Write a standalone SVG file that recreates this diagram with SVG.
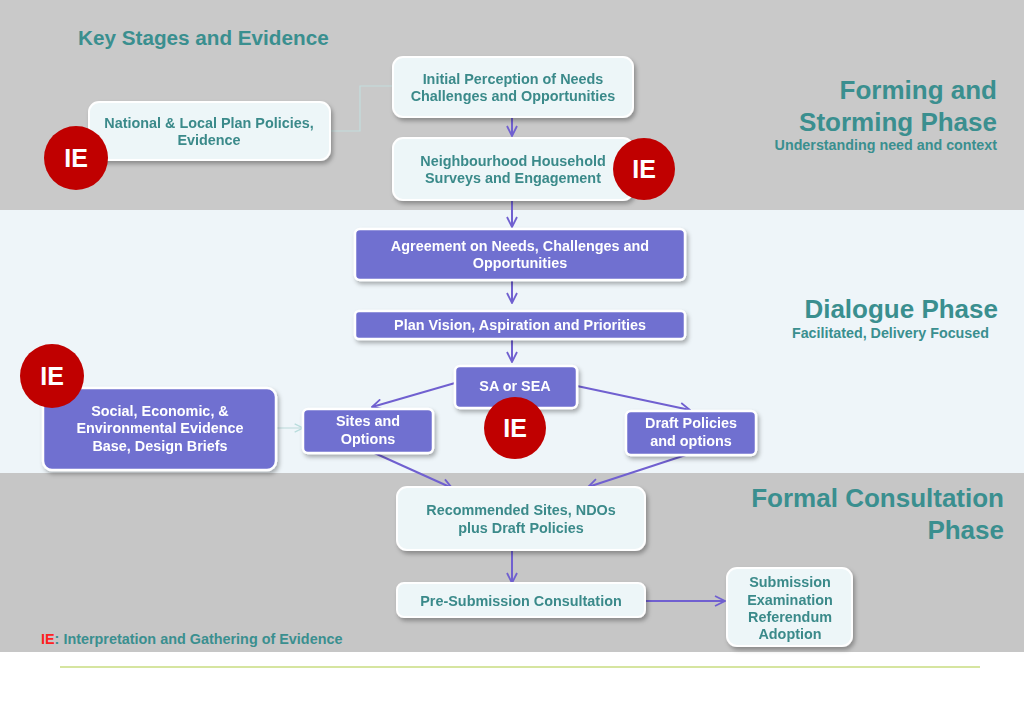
<svg xmlns="http://www.w3.org/2000/svg" width="1024" height="709" viewBox="0 0 1024 709">
<style>
text{font-family:"Liberation Sans",Arial,sans-serif;font-weight:bold}
.lt{fill:#edf6f8;stroke:#ffffff;stroke-width:2}
.pu{fill:#7070d0;stroke:#ffffff;stroke-width:2.5}
.tl{fill:#3a8a8a;font-size:14.4px;text-anchor:middle}
.tw{fill:#ffffff;font-size:14.4px;text-anchor:middle}
.ie circle{fill:#c00000}
.ie text{fill:#ffffff;font-size:25px;text-anchor:middle}
.ph{fill:#3a8f8f;font-size:26px;text-anchor:end}
.sub{fill:#3a8f8f;font-size:14.3px;text-anchor:end}
.arr{stroke:#7060d0;stroke-width:2;fill:none;marker-end:url(#ah)}
.faint{stroke:#c4dede;stroke-width:1.2;fill:none}
</style>
<defs>
<marker id="ah" viewBox="0 0 12 12" refX="11" refY="6" markerWidth="12" markerHeight="12" markerUnits="userSpaceOnUse" orient="auto">
<path d="M1,1 L11,6 L1,11" fill="none" stroke="#7060d0" stroke-width="1.8"/>
</marker>
<marker id="ahf" viewBox="0 0 12 12" refX="11" refY="6" markerWidth="10" markerHeight="10" markerUnits="userSpaceOnUse" orient="auto">
<path d="M1,1 L11,6 L1,11" fill="none" stroke="#b8dcdc" stroke-width="1.5"/>
</marker>
<filter id="sh" x="-10%" y="-20%" width="130%" height="150%">
<feDropShadow dx="2" dy="3" stdDeviation="2" flood-color="#000" flood-opacity="0.3"/>
</filter>
</defs>
<rect x="0" y="0" width="1024" height="709" fill="#ffffff"/>
<rect x="0" y="0" width="1024" height="210" fill="#c9c9c9"/>
<rect x="0" y="210" width="1024" height="263" fill="#eef5f9"/>
<rect x="0" y="473" width="1024" height="179" fill="#c6c6c6"/>
<line x1="60" y1="667" x2="980" y2="667" stroke="#c8dc80" stroke-width="1.5"/>

<text x="78" y="45" fill="#3a8f8f" font-size="20.7">Key Stages and Evidence</text>
<text class="ph" x="997" y="99">Forming and</text>
<text class="ph" x="997" y="131">Storming Phase</text>
<text class="sub" x="997" y="150">Understanding need and context</text>
<text class="ph" x="998" y="318">Dialogue Phase</text>
<text class="sub" x="989" y="338">Facilitated, Delivery Focused</text>
<text class="ph" x="1004" y="507">Formal Consultation</text>
<text class="ph" x="1004" y="539">Phase</text>
<text x="41" y="644" font-size="14.4"><tspan fill="#ff2020">IE</tspan><tspan fill="#3a8f8f">: Interpretation and Gathering of Evidence</tspan></text>

<g id="connectors">
<path class="faint" d="M330,131 H360 V86 H393"/>
<path class="faint" d="M272,428 H303" marker-end="url(#ahf)"/>
<path class="arr" d="M512,118 V136"/>
<path class="arr" d="M512,200 V227"/>
<path class="arr" d="M512,281 V303"/>
<path class="arr" d="M512,340 V362"/>
<path class="arr" d="M455,383 L372,407"/>
<path class="arr" d="M577,386 L690,410"/>
<path class="arr" d="M370,451 L452,488"/>
<path class="arr" d="M698,451 L588,487"/>
<path class="arr" d="M512,551 V583"/>
<path class="arr" d="M645,601 H725"/>
</g>

<g id="n-national" filter="url(#sh)"><rect class="lt" x="89" y="102" width="241" height="58" rx="10"/>
<text class="tl" x="209" y="128">National &amp; Local Plan Policies,</text><text class="tl" x="209" y="145">Evidence</text></g>
<g id="ie1" class="ie"><circle cx="76" cy="158" r="32"/><text x="76" y="167">IE</text></g>

<g id="n-initial" filter="url(#sh)"><rect class="lt" x="393" y="57" width="240" height="60" rx="10"/>
<text class="tl" x="513" y="84">Initial Perception of Needs</text><text class="tl" x="513" y="101">Challenges and Opportunities</text></g>

<g id="n-survey" filter="url(#sh)"><rect class="lt" x="393" y="138" width="240" height="62" rx="10"/>
<text class="tl" x="513" y="166">Neighbourhood Household</text><text class="tl" x="513" y="183">Surveys and Engagement</text></g>
<g id="ie2" class="ie"><circle cx="644" cy="169" r="31"/><text x="644" y="178">IE</text></g>

<g id="n-agree" filter="url(#sh)"><rect class="pu" x="355" y="229" width="330" height="51" rx="5"/>
<text class="tw" x="520" y="251">Agreement on Needs, Challenges and</text><text class="tw" x="520" y="268">Opportunities</text></g>

<g id="n-vision" filter="url(#sh)"><rect class="pu" x="355" y="311" width="330" height="28" rx="4"/>
<text class="tw" x="520" y="330">Plan Vision, Aspiration and Priorities</text></g>

<g id="n-sa" filter="url(#sh)"><rect class="pu" x="455" y="366" width="122" height="42" rx="5"/>
<text class="tw" x="515" y="391">SA or SEA</text></g>
<g id="ie4" class="ie"><circle cx="515" cy="428" r="31"/><text x="515" y="437">IE</text></g>

<g id="n-social" filter="url(#sh)"><rect class="pu" x="43" y="388" width="233" height="82" rx="9"/>
<text class="tw" x="160" y="416">Social, Economic, &amp;</text><text class="tw" x="160" y="433">Environmental Evidence</text><text class="tw" x="160" y="451">Base, Design Briefs</text></g>
<g id="ie3" class="ie"><circle cx="52" cy="376" r="32"/><text x="52" y="385">IE</text></g>

<g id="n-sites" filter="url(#sh)"><rect class="pu" x="303" y="409" width="130" height="44" rx="5"/>
<text class="tw" x="368" y="426">Sites and</text><text class="tw" x="368" y="444">Options</text></g>

<g id="n-draft" filter="url(#sh)"><rect class="pu" x="626" y="411" width="130" height="44" rx="5"/>
<text class="tw" x="691" y="428">Draft Policies</text><text class="tw" x="691" y="446">and options</text></g>

<g id="n-recommended" filter="url(#sh)"><rect class="lt" x="397" y="487" width="248" height="63" rx="10"/>
<text class="tl" x="521" y="515">Recommended Sites, NDOs</text><text class="tl" x="521" y="533">plus Draft Policies</text></g>

<g id="n-presub" filter="url(#sh)"><rect class="lt" x="397" y="583" width="248" height="34" rx="7"/>
<text class="tl" x="521" y="606">Pre-Submission Consultation</text></g>

<g id="n-submission" filter="url(#sh)"><rect class="lt" x="727" y="568" width="125" height="78" rx="10"/>
<text class="tl" x="790" y="587">Submission</text><text class="tl" x="790" y="605">Examination</text><text class="tl" x="790" y="622">Referendum</text><text class="tl" x="790" y="639">Adoption</text></g>
</svg>
